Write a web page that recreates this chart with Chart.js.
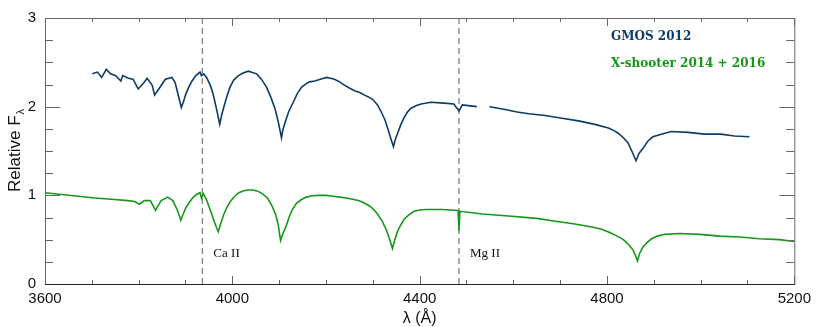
<!DOCTYPE html>
<html>
<head>
    <title>Spectrum</title>
    <script src="https://cdn.jsdelivr.net/npm/chart.js@4.4.1/dist/chart.umd.min.js"></script>
    <style>
        body { margin: 0; background: #fff; }
    </style>
</head>
<body>
    <canvas id="spec" width="817" height="327"></canvas>
    <script type="text/javascript">
    // GMOS 2012 spectrum, null = gap
    var gmosWave = [3701, 3712, 3721, 3731, 3740, 3751, 3762, 3766, 3778, 3788, 3799, 3811, 3818, 3829, 3834,
        3843, 3857, 3871, 3878, 3885, 3891, 3896, 3900, 3907, 3914, 3922, 3931, 3934, 3939, 3945, 3953,
        3958, 3963, 3968, 3973, 3977, 3981, 3988, 3995, 4003, 4013, 4023, 4034, 4052, 4062, 4073, 4082,
        4091, 4098, 4105, 4108, 4112, 4120, 4130, 4139, 4148, 4158, 4165, 4176, 4188, 4201, 4210, 4218,
        4229, 4240, 4250, 4261, 4272, 4282, 4291, 4300, 4310, 4318, 4326, 4332, 4339, 4344, 4348, 4353,
        4360, 4367, 4374, 4381, 4392, 4403, 4424, 4452, 4473, 4484, 4491, 4522, 4535,
        4549, 4580, 4608, 4633, 4668, 4704, 4739, 4774, 4803, 4815, 4824, 4835, 4845, 4853, 4862, 4868,
        4877, 4887, 4898, 4916, 4937, 4973, 5008, 5043, 5072, 5104];
    var gmosFlux = [2.37, 2.39, 2.33, 2.42, 2.37, 2.35, 2.29, 2.35, 2.32, 2.31, 2.20, 2.27, 2.32, 2.24, 2.13,
        2.20, 2.31, 2.33, 2.27, 2.12, 1.99, 2.06, 2.13, 2.22, 2.29, 2.35, 2.39, 2.35, 2.37, 2.33, 2.24,
        2.16, 2.05, 1.93, 1.80, 1.90, 1.98, 2.11, 2.22, 2.30, 2.35, 2.38, 2.40, 2.37, 2.31, 2.22, 2.11,
        1.98, 1.83, 1.65, 1.74, 1.81, 1.94, 2.05, 2.15, 2.22, 2.26, 2.28, 2.29, 2.31, 2.33, 2.32, 2.31,
        2.28, 2.24, 2.21, 2.18, 2.16, 2.13, 2.11, 2.08, 2.02, 1.94, 1.85, 1.75, 1.63, 1.55, 1.63, 1.70,
        1.80, 1.88, 1.94, 1.98, 2.01, 2.03, 2.05, 2.04, 2.03, 1.95, 2.02, 2.00, null,
        2.00, 1.97, 1.94, 1.92, 1.90, 1.87, 1.84, 1.80, 1.76, 1.73, 1.70, 1.65, 1.59, 1.50, 1.39, 1.47,
        1.53, 1.61, 1.66, 1.69, 1.72, 1.71, 1.69, 1.69, 1.67, 1.66];

    // X-shooter 2014 + 2016 spectrum
    var xshWave = [3600, 3635, 3671, 3706, 3742, 3777, 3791, 3802, 3812, 3825, 3836, 3848, 3862, 3873, 3882,
        3886, 3890, 3895, 3901, 3908, 3915, 3923, 3931, 3934, 3938, 3945, 3951, 3956, 3961, 3966, 3970,
        3975, 3982, 3989, 3997, 4005, 4014, 4023, 4032, 4043, 4053, 4064, 4075, 4084, 4092, 4098, 4103,
        4108, 4114, 4121, 4128, 4137, 4147, 4158, 4170, 4186, 4200, 4215, 4230, 4243, 4257, 4271, 4283,
        4293, 4302, 4310, 4320, 4328, 4335, 4342, 4347, 4353, 4360, 4367, 4377, 4388, 4400, 4413, 4449,
        4482, 4484, 4486, 4534, 4583, 4650, 4686, 4728, 4771, 4790, 4806, 4822, 4835, 4847, 4856, 4861,
        4865, 4870, 4877, 4886, 4895, 4908, 4923, 4955, 4998, 5040, 5083, 5125, 5168, 5200];
    var xshFlux = [1.03, 1.01, 0.99, 0.97, 0.955, 0.94, 0.93, 0.90, 0.94, 0.94, 0.83, 0.94, 0.98, 0.94, 0.84,
        0.78, 0.72, 0.79, 0.86, 0.92, 0.97, 1.01, 1.03, 0.97, 1.02, 0.95, 0.86, 0.79, 0.71, 0.64, 0.59,
        0.68, 0.79, 0.87, 0.94, 0.99, 1.03, 1.05, 1.06, 1.06, 1.05, 1.02, 0.97, 0.89, 0.79, 0.67, 0.49,
        0.57, 0.64, 0.75, 0.84, 0.91, 0.95, 0.98, 0.995, 1.00, 1.00, 0.99, 0.98, 0.97, 0.955, 0.94, 0.91,
        0.88, 0.84, 0.79, 0.71, 0.62, 0.52, 0.40, 0.50, 0.60, 0.67, 0.73, 0.78, 0.82, 0.835, 0.84, 0.84,
        0.83, 0.60, 0.82, 0.79, 0.77, 0.74, 0.71, 0.68, 0.64, 0.615, 0.58, 0.54, 0.50, 0.44, 0.38, 0.32,
        0.26, 0.35, 0.42, 0.47, 0.51, 0.54, 0.56, 0.57, 0.56, 0.54, 0.53, 0.51, 0.50, 0.48];

    var markWave = [3936, 4484];
    var markNames = ['Ca II', 'Mg II'];
    var xMajor = [3600, 4000, 4400, 4800, 5200];
    var yMajor = [0, 1, 2, 3];

    var blue = '#0d3c66';
    var green = '#17961a';

    function pairs(xs, ys) {
        var out = [];
        for (var i = 0; i < xs.length; i++) out.push({ x: xs[i], y: ys[i] });
        return out;
    }

    var datasets = [
        { data: pairs(gmosWave, gmosFlux), borderColor: blue, borderWidth: 1.6, pointRadius: 0, tension: 0, spanGaps: false },
        { data: pairs(xshWave, xshFlux), borderColor: green, borderWidth: 1.6, pointRadius: 0, tension: 0 }
    ];
    for (var i = 0; i < markWave.length; i++) {
        datasets.push({
            data: [{ x: markWave[i], y: 0 }, { x: markWave[i], y: 3 }],
            borderColor: '#8a8a8a', borderWidth: 1.4, borderDash: [6, 4], pointRadius: 0
        });
    }

    // IDL-like frame with inward ticks, labels and y title
    var framePlugin = {
        id: 'frame',
        afterDraw: function(chart) {
            var c = chart.ctx, a = chart.chartArea;
            var xs = chart.scales.x, ys = chart.scales.y;
            c.save();
            c.strokeStyle = '#666';
            c.lineWidth = 1;
            c.strokeRect(a.left + 0.5, a.top + 0.5, a.right - a.left, a.bottom - a.top);
            c.beginPath();
            for (var v = 3600; v <= 5200; v += 100) {
                var px = Math.round(xs.getPixelForValue(v)) + 0.5;
                var len = xMajor.indexOf(v) >= 0 ? 8 : 4;
                c.moveTo(px, a.bottom); c.lineTo(px, a.bottom - len);
                c.moveTo(px, a.top); c.lineTo(px, a.top + len);
            }
            for (var w = 0; w <= 3; w += 0.25) {
                var py = Math.round(ys.getPixelForValue(w)) + 0.5;
                var l2 = yMajor.indexOf(w) >= 0 ? 15 : 8;
                c.moveTo(a.left, py); c.lineTo(a.left + l2, py);
                c.moveTo(a.right, py); c.lineTo(a.right - l2, py);
            }
            c.stroke();
            c.strokeStyle = '#222';
            c.beginPath();
            c.moveTo(a.left, a.bottom + 0.5); c.lineTo(a.right, a.bottom + 0.5);
            c.stroke();

            // line names
            c.fillStyle = '#111';
            c.font = '13px "Liberation Serif"';
            c.textBaseline = 'middle';
            c.textAlign = 'left';
            for (var k = 0; k < markWave.length; k++) {
                c.fillText(markNames[k], xs.getPixelForValue(markWave[k]) + 11, 254);
            }

            // legend text
            c.font = 'bold 12px "DejaVu Serif"';
            c.fillStyle = blue;
            c.fillText('GMOS 2012', 611, 37);
            c.fillStyle = green;
            c.fillText('X-shooter 2014 + 2016', 611, 64);

            // y title with subscript
            c.translate(20, 151);
            c.rotate(-Math.PI / 2);
            c.fillStyle = '#111';
            c.textBaseline = 'alphabetic';
            c.font = '17px "Liberation Sans"';
            var t = 'Relative F';
            var tw = c.measureText(t).width;
            c.font = '11px "Liberation Sans"';
            var sw = c.measureText('\u03bb').width;
            var x0 = -(tw + sw) / 2;
            c.font = '17px "Liberation Sans"';
            c.fillText(t, x0, 0);
            c.font = '11px "Liberation Sans"';
            c.fillText('\u03bb', x0 + tw + 1, 4);
            c.restore();
        }
    };

    new Chart(document.getElementById('spec'), {
        type: 'line',
        data: { datasets: datasets },
        options: {
            responsive: false,
            animation: false,
            layout: { padding: { left: 0, right: 19, top: 15, bottom: 0 } },
            plugins: { legend: { display: false }, tooltip: { enabled: false } },
            scales: {
                x: {
                    type: 'linear',
                    min: 3600, max: 5200,
                    afterFit: function(s) { s.height = 43; },
                    border: { display: false },
                    grid: { display: false, drawTicks: false },
                    ticks: {
                        stepSize: 100, autoSkip: false, maxRotation: 0, padding: 6,
                        color: '#111', font: { family: 'Liberation Sans', size: 15 },
                        callback: function(v) { return xMajor.indexOf(v) >= 0 ? String(v) : ''; }
                    },
                    title: {
                        display: true, text: '\u03bb (\u00c5)', color: '#111',
                        font: { family: 'Liberation Sans', size: 16, lineHeight: 1 }, padding: { top: 0, bottom: 0 }
                    }
                },
                y: {
                    min: 0, max: 3,
                    afterFit: function(s) { s.width = 45; },
                    border: { display: false },
                    grid: { display: false, drawTicks: false },
                    ticks: {
                        stepSize: 0.25, autoSkip: false, padding: 9,
                        color: '#111', font: { family: 'Liberation Sans', size: 15 },
                        callback: function(v) { return yMajor.indexOf(v) >= 0 ? String(v) : ''; }
                    }
                }
            }
        },
        plugins: [framePlugin]
    });
    </script>
</body>
</html>
